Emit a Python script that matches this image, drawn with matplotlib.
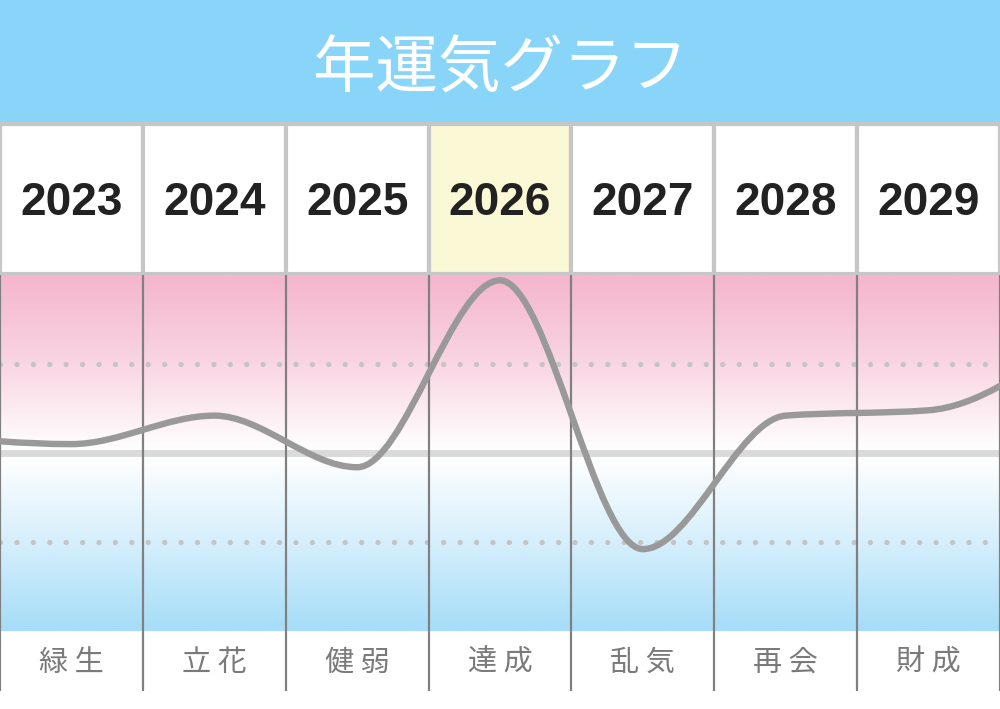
import numpy as np
import matplotlib
matplotlib.use('Agg')
import matplotlib.pyplot as plt
from matplotlib.path import Path
from matplotlib.patches import PathPatch, Rectangle
from matplotlib.colors import LinearSegmentedColormap

plt.rcParams['font.family'] = ['Noto Sans CJK JP', 'DejaVu Sans']

# data (score: -100 .. 100, 0 = middle line)
title = '年運気グラフ'
years = [2023, 2024, 2025, 2026, 2027, 2028, 2029]
labels = ['緑生', '立花', '健弱', '達成', '乱気', '再会', '財成']
scores = [5, 21, -8, 97, -54, 21, 24]
score_before = 10   # 2022, just outside the left edge
score_after = 64    # 2030, just outside the right edge
highlight = 2026


def monotone_path(x, y):
    '''Smooth monotone-x curve (same rule as d3.curveMonotoneX) as a bezier Path'''
    x = np.asarray(x, float)
    y = np.asarray(y, float)
    n = len(x)
    h = np.diff(x)
    s = np.diff(y) / h
    t = np.zeros(n)
    for i in range(1, n - 1):
        p = (s[i - 1] * h[i] + s[i] * h[i - 1]) / (h[i - 1] + h[i])
        t[i] = (np.sign(s[i - 1]) + np.sign(s[i])) * min(abs(s[i - 1]), abs(s[i]), 0.5 * abs(p))
    t[0] = (3 * s[0] - t[1]) / 2
    t[-1] = (3 * s[-1] - t[-2]) / 2
    verts = [(x[0], y[0])]
    codes = [Path.MOVETO]
    for i in range(n - 1):
        dx = h[i] / 3
        verts += [(x[i] + dx, y[i] + dx * t[i]),
                  (x[i + 1] - dx, y[i + 1] - dx * t[i + 1]),
                  (x[i + 1], y[i + 1])]
        codes += [Path.CURVE4] * 3
    return Path(verts, codes)


W, H = 1000, 709
fig = plt.figure(figsize=(10, 7.09), dpi=100)
fig.patch.set_facecolor('white')

# background/layout axes in pixel units
bg = fig.add_axes([0, 0, 1, 1])
bg.set_xlim(0, W)
bg.set_ylim(H, 0)
bg.axis('off')

n = len(years)
cw = W / n

# header band
bg.add_patch(Rectangle((0, 0), W, 123, facecolor='#89d5fa', edgecolor='none'))
bg.text(W / 2, 70, title, ha='center', va='center', color='white', fontsize=45)

# year cells
for i, yr in enumerate(years):
    fc = '#fbf8d5' if yr == highlight else 'white'
    bg.add_patch(Rectangle((i * cw, 124), cw, 150, facecolor=fc,
                           edgecolor='#c6c6c6', lw=3))
    bg.text((i + 0.5) * cw, 203, str(yr), ha='center', va='center',
            fontsize=33, fontweight='bold', color='#222222',
            family=['Liberation Sans', 'DejaVu Sans'])

# label row
for i, lab in enumerate(labels):
    bg.text((i + 0.5) * cw, 663, lab[0] + ' ' + lab[1], ha='center', va='center',
            fontsize=21, color='#7a7a7a')
bg.vlines([k * cw for k in range(n + 1)], 631, 691, color='#808080', lw=1.6)

# graph area
g_top, g_bot = 275, 631
ax = fig.add_axes([0, (H - g_bot) / H, 1, (g_bot - g_top) / H])
ax.set_xlim(-0.5, n - 0.5)
ax.set_ylim(-100, 100)
ax.axis('off')

cmap = LinearSegmentedColormap.from_list(
    'bg', [(0.0, '#a6ddf8'), (0.25, '#d6effc'), (0.49, '#ffffff'),
           (0.51, '#ffffff'), (0.75, '#f9d6e3'), (1.0, '#f4b5cd')])
grad = np.linspace(-100, 100, 400).reshape(-1, 1)
ax.imshow(grad, extent=(-0.5, n - 0.5, -100, 100), origin='lower',
          aspect='auto', cmap=cmap, vmin=-100, vmax=100, zorder=0)

ax.axhline(0, color='#dadada', lw=5, zorder=1)
for lvl in (50, -50):
    ax.axhline(lvl, color='#c4c4c4', lw=3.8, ls=(0, (0.01, 3.1)),
               dash_capstyle='round', zorder=1)
for k in range(n + 1):
    ax.axvline(k - 0.5, color='#808080', lw=1.6, zorder=2)

xs = [-1] + list(range(n)) + [n]
ys = [score_before] + scores + [score_after]
ax.add_patch(PathPatch(monotone_path(xs, ys), facecolor='none',
                       edgecolor='#999999', lw=4.6, capstyle='round', zorder=3))

fig.savefig('out.png', dpi=100)
